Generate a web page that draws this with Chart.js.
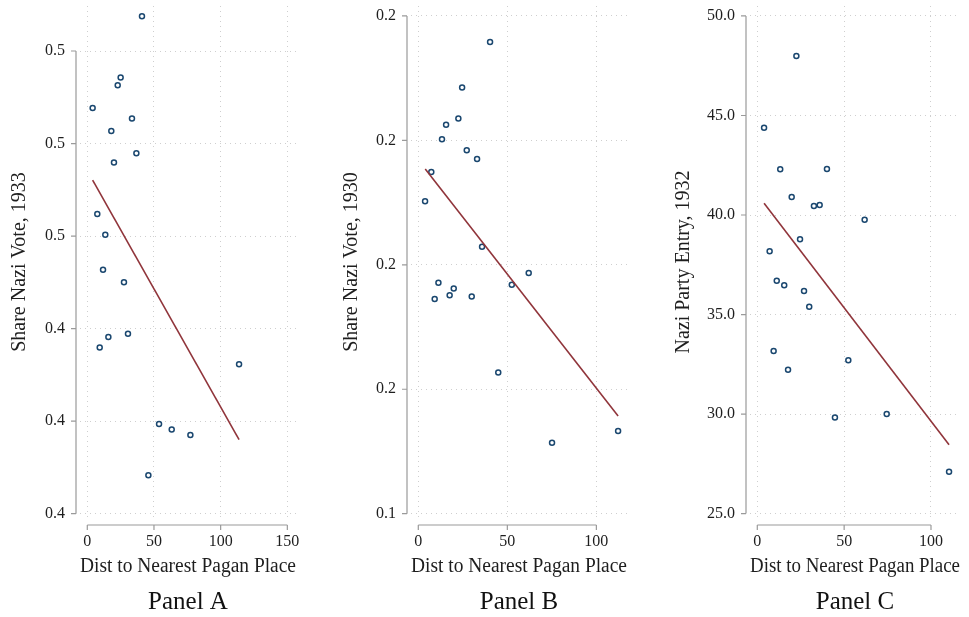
<!DOCTYPE html>
<html>
<head>
<meta charset="utf-8">
<title>Distance to pagan places and Nazi support</title>
<script src="https://cdn.jsdelivr.net/npm/chart.js@4/dist/chart.umd.min.js"></script>
<style>
  html, body { margin: 0; padding: 0; background: #fff; }
  #wrap { position: relative; width: 969px; height: 617px; }
  #wrap canvas { position: absolute; top: 0; }
</style>
</head>
<body>
<div id="wrap">
  <canvas id="panelA" width="323" height="617" style="left:0"></canvas>
  <canvas id="panelB" width="323" height="617" style="left:323px"></canvas>
  <canvas id="panelC" width="323" height="617" style="left:646px"></canvas>
</div>
<script>
// ── Data ───────────────────────────────────────────────────────────
// Panel A: share Nazi vote 1933
const distA   = [41.0, 25.0, 22.8, 4.0, 33.5, 18.0, 36.8, 20.0, 7.5, 13.5,
                 11.8, 27.5, 9.3, 15.8, 30.5, 113.8, 53.8, 63.3, 77.3, 45.8];
const voteA33 = [0.5075, 0.4943, 0.4926, 0.4877, 0.4854, 0.4827, 0.4779, 0.4759, 0.4648, 0.4603,
                 0.4527, 0.4500, 0.4359, 0.4382, 0.4389, 0.4323, 0.4194, 0.4182, 0.4170, 0.4083];
const fitXA   = [4.0, 113.8];
const fitYA   = [0.4721, 0.4160];

// Panel B: share Nazi vote 1930
const distB   = [40.3, 24.6, 22.5, 15.6, 13.3, 27.2, 33.0, 7.3, 3.8, 35.8,
                 62.0, 52.5, 11.3, 19.9, 17.6, 30.0, 9.2, 44.9, 75.1, 112.2];
const voteB30 = [0.2158, 0.2085, 0.2035, 0.2025, 0.2002, 0.1984, 0.1970, 0.1949, 0.1902, 0.1829,
                 0.1787, 0.1768, 0.1771, 0.1762, 0.1751, 0.1749, 0.1745, 0.1627, 0.1514, 0.1533];
const fitXB   = [3.9, 112.2];
const fitYB   = [0.1954, 0.1557];

// Panel C: Nazi party entry 1932
const distC   = [22.5, 3.9, 13.2, 40.1, 19.8, 32.6, 35.9, 61.8, 24.6, 7.1,
                 11.2, 15.5, 26.9, 29.9, 9.4, 17.7, 52.4, 44.7, 74.5, 110.4];
const entryC32 = [47.99, 44.39, 42.30, 42.31, 40.90, 40.45, 40.50, 39.76, 38.78, 38.18,
                  36.70, 36.47, 36.18, 35.39, 33.17, 32.23, 32.70, 29.83, 30.00, 27.10];
const fitXC   = [3.9, 110.4];
const fitYC   = [40.59, 28.46];

// Tick values
const xTicksA = [0, 50, 100, 150];
const xTicksB = [0, 50, 100];
const xTicksC = [0, 50, 100];
const yTicksA = [0.40, 0.42, 0.44, 0.46, 0.48, 0.50];
const yTicksB = [0.14, 0.16, 0.18, 0.20, 0.22];
const yTicksC = [25, 30, 35, 40, 45, 50];

const X_TITLE = 'Dist to Nearest Pagan Place';

// ── Style ──────────────────────────────────────────────────────────
const FONT      = "'Liberation Serif', 'Times New Roman', serif";
const TEXT      = '#1e1e1e';
const AXIS      = '#9a9a9a';
const GRID      = '#cfcfcf';
const MARKER    = '#1a476f';
const FIT_LINE  = '#90353b';

// Stata-style axes: line spans only the tick range, set off from the plot region
const offsetAxes = {
  id: 'offsetAxes',
  beforeDatasetsDraw(chart) {
    const { ctx, chartArea: a, scales: { x, y } } = chart;
    const xt = chart.options.scales.x.tickValues;
    const yt = chart.options.scales.y.tickValues;
    const ax = a.left - 4, ay = a.bottom + 7;
    ctx.save();
    ctx.strokeStyle = AXIS;
    ctx.lineWidth = 1.2;
    ctx.beginPath();
    ctx.moveTo(ax, y.getPixelForValue(yt[0]));
    ctx.lineTo(ax, y.getPixelForValue(yt[yt.length - 1]));
    yt.forEach(v => { const p = y.getPixelForValue(v); ctx.moveTo(ax - 5, p); ctx.lineTo(ax, p); });
    ctx.moveTo(x.getPixelForValue(xt[0]), ay);
    ctx.lineTo(x.getPixelForValue(xt[xt.length - 1]), ay);
    xt.forEach(v => { const p = x.getPixelForValue(v); ctx.moveTo(p, ay); ctx.lineTo(p, ay + 5); });
    ctx.stroke();
    ctx.restore();
  }
};

function points(xs, ys) {
  return xs.map((v, i) => ({ x: v, y: ys[i] }));
}

function buildPanel(p) {
  const fixTicks = arr => scale => { scale.ticks = arr.map(v => ({ value: v })); };
  return new Chart(document.getElementById(p.id).getContext('2d'), {
    type: 'scatter',
    data: {
      datasets: [
        {
          data: points(p.fitX, p.fitY),
          showLine: true,
          borderColor: FIT_LINE,
          borderWidth: 1.6,
          pointRadius: 0,
          order: 0,
        },
        {
          data: points(p.dist, p.vals),
          borderColor: MARKER,
          backgroundColor: '#ffffff',
          borderWidth: 1.5,
          pointRadius: 2.5,
          order: 1,
        },
      ],
    },
    options: {
      responsive: false,
      animation: false,
      devicePixelRatio: 1,
      layout: { padding: { top: 6, right: p.padRight, bottom: 0, left: 0 } },
      plugins: {
        legend: { display: false },
        tooltip: { enabled: false },
        title: {
          display: true,
          text: p.title,
          position: 'bottom',
          fullSize: false,
          color: '#111',
          font: { family: FONT, size: 25, weight: 'normal' },
          padding: { top: 0, bottom: 0 },
        },
      },
      scales: {
        x: {
          type: 'linear',
          min: p.xMin, max: p.xMax,
          tickValues: p.xTicks,
          afterBuildTicks: fixTicks(p.xTicks),
          afterFit: s => { s.height = 69; s.paddingLeft = 0; s.paddingRight = 0; },
          grid: { color: GRID, lineWidth: 1, drawTicks: false },
          border: { display: false, dash: [1, 4] },
          ticks: {
            color: TEXT, padding: 14, maxRotation: 0,
            font: { family: FONT, size: 16 },
            callback: v => String(v),
          },
          title: {
            display: true, text: X_TITLE, color: TEXT,
            font: { family: FONT, size: 20 },
            padding: { top: 0, bottom: 8 },
          },
        },
        y: {
          type: 'linear',
          min: p.yMin, max: p.yMax,
          tickValues: p.yTicks,
          afterBuildTicks: fixTicks(p.yTicks),
          afterFit: s => { s.width = p.yWidth; s.paddingTop = 0; s.paddingBottom = 0; },
          grid: { color: GRID, lineWidth: 1, drawTicks: false },
          border: { display: false, dash: [1, 4] },
          ticks: {
            color: TEXT, padding: 15,
            font: { family: FONT, size: 16 },
            callback: v => v.toFixed(1),
          },
          title: {
            display: true, text: p.yTitle, color: TEXT,
            font: { family: FONT, size: 20 },
            padding: { top: p.yTitlePad, bottom: 0 },
          },
        },
      },
    },
    plugins: [offsetAxes],
  });
}

const PANELS = [
  { id: 'panelA', title: 'Panel A', yTitle: 'Share Nazi Vote, 1933',
    dist: distA, vals: voteA33, fitX: fitXA, fitY: fitYA, xTicks: xTicksA, yTicks: yTicksA,
    xMin: -5.47, xMax: 156.5, yMin: 0.39907, yMax: 0.50973,
    yWidth: 80, padRight: 27, yTitlePad: 8 },
  { id: 'panelB', title: 'Panel B', yTitle: 'Share Nazi Vote, 1930',
    dist: distB, vals: voteB30, fitX: fitXB, fitY: fitYB, xTicks: xTicksB, yTicks: yTicksB,
    xMin: -4.1, xMax: 117.2, yMin: 0.13931, yMax: 0.2216,
    yWidth: 88, padRight: 19, yTitlePad: 17 },
  { id: 'panelC', title: 'Panel C', yTitle: 'Nazi Party Entry, 1932',
    dist: distC, vals: entryC32, fitX: fitXC, fitY: fitYC, xTicks: xTicksC, yTicks: yTicksC,
    xMin: -4.2, xMax: 116.7, yMin: 24.78, yMax: 50.5,
    yWidth: 104, padRight: 9, yTitlePad: 26 },
];

PANELS.forEach(buildPanel);
</script>
</body>
</html>
